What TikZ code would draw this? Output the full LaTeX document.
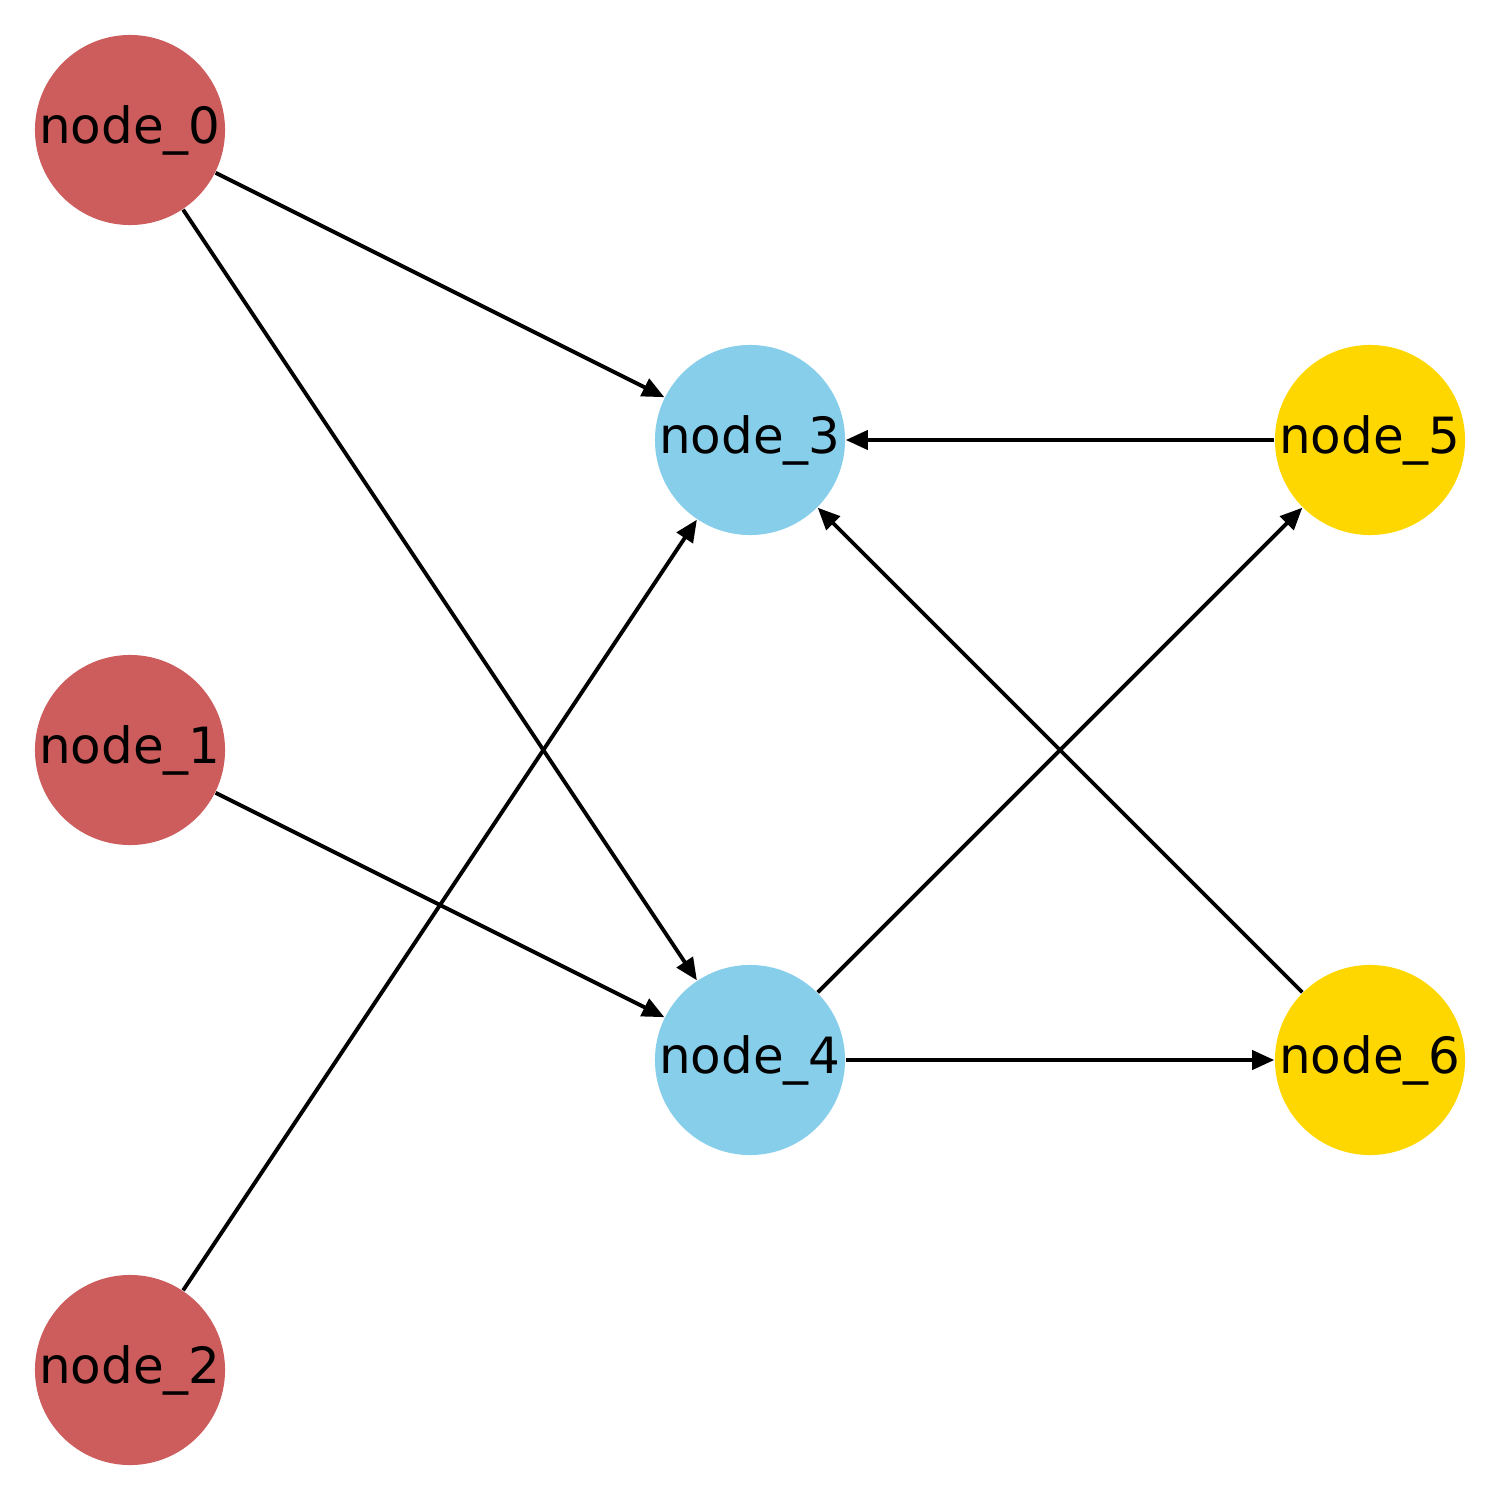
\documentclass[tikz,border=0pt]{standalone}
\usepackage{fontspec}
\setmainfont{DejaVu Sans}
\usetikzlibrary{arrows.meta}
\definecolor{nred}{HTML}{CD5C5C}
\definecolor{nblue}{HTML}{87CEEB}
\definecolor{ngold}{HTML}{FFD700}
\tikzset{
  vertex/.style={circle, minimum size=1.9cm, inner sep=0pt, fill=#1,
    font=\fontsize{14.2pt}{16pt}\selectfont},
  edge/.style={line width=1.1pt, -{Triangle[length=0.22cm, width=0.19cm]}}
}
\begin{document}
\begin{tikzpicture}[x=0.01cm, y=-0.01cm]
\useasboundingbox (0,0) rectangle (1500,1500);
\node[vertex=nred]  (n0) at (130,130)  {node\_0};
\node[vertex=nred]  (n1) at (130,750)  {node\_1};
\node[vertex=nred]  (n2) at (130,1370) {node\_2};
\node[vertex=nblue] (n3) at (750,440)  {node\_3};
\node[vertex=nblue] (n4) at (750,1060) {node\_4};
\node[vertex=ngold] (n5) at (1370,440) {node\_5};
\node[vertex=ngold] (n6) at (1370,1060){node\_6};
\draw[edge] (n0) -- (n3);
\draw[edge] (n0) -- (n4);
\draw[edge] (n1) -- (n4);
\draw[edge] (n2) -- (n3);
\draw[edge] (n5) -- (n3);
\draw[edge] (n6) -- (n3);
\draw[edge] (n4) -- (n5);
\draw[edge] (n4) -- (n6);
\end{tikzpicture}
\end{document}
